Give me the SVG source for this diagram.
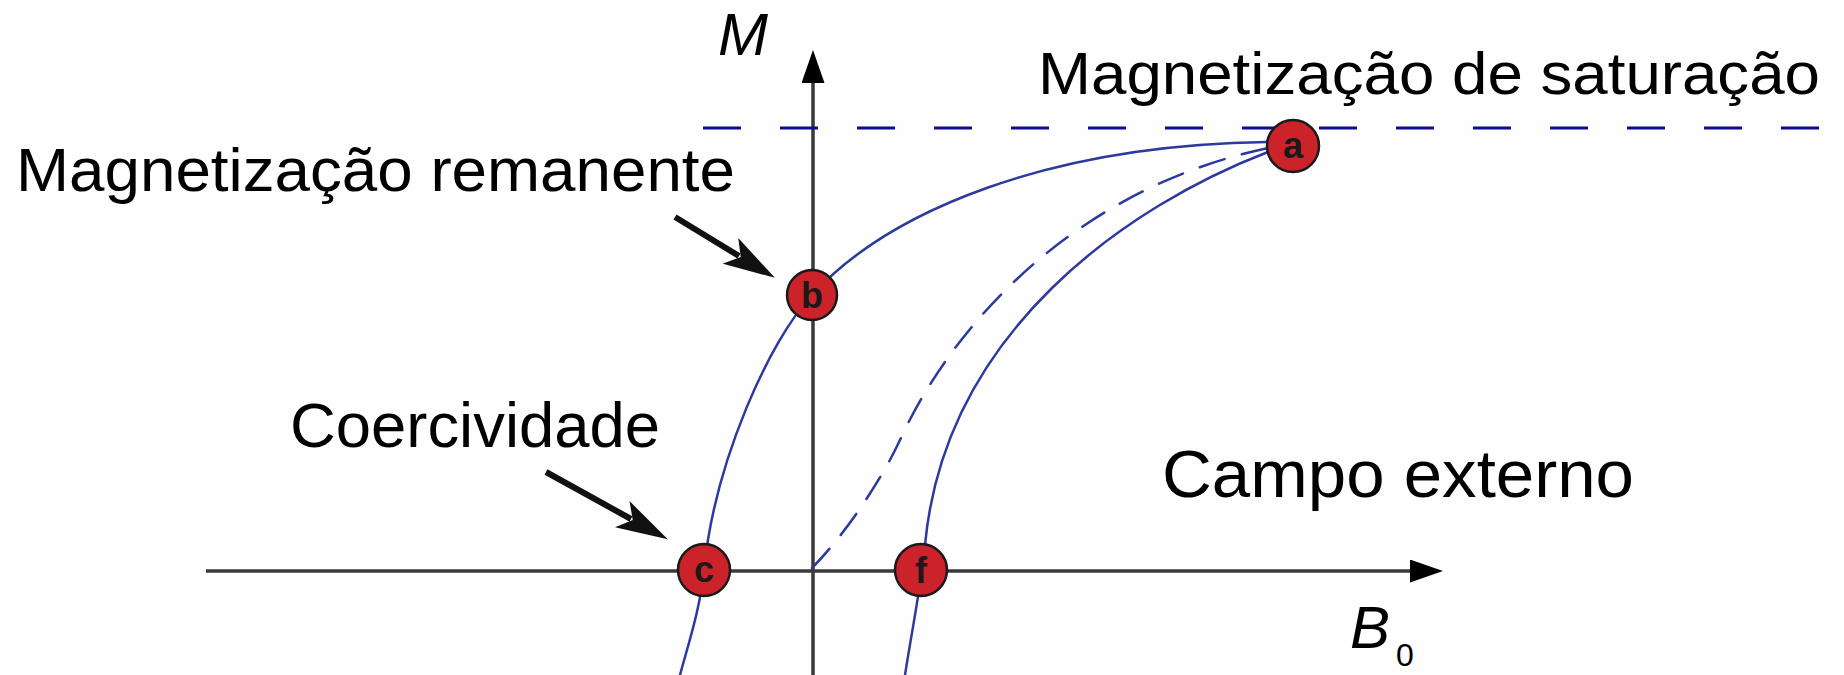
<svg xmlns="http://www.w3.org/2000/svg" width="1844" height="675" viewBox="0 0 1844 675">
<defs>
<style>
.lbl{font-family:"Liberation Sans",Arial,sans-serif;fill:#000}
.axis{stroke:#3a3a3a;stroke-width:3.5;fill:none}
.curve{stroke:#2b3a9c;stroke-width:2.5;fill:none;stroke-linecap:round}
.pt{fill:#cc2229;stroke:#1a1a1a;stroke-width:2.5}
.ptl{font-family:"Liberation Sans",Arial,sans-serif;font-weight:bold;font-size:36px;fill:#1a1a1a;text-anchor:middle}
.ptr{stroke:#111;stroke-width:6;fill:none}
</style>
<marker id="axisHead" viewBox="0 0 33 23" refX="0" refY="11.5" markerWidth="33" markerHeight="23" markerUnits="userSpaceOnUse" orient="auto">
<path d="M0,0 L33,11.5 L0,23 z" fill="#000"/>
</marker>
<marker id="ptrHead" viewBox="0 0 52 30" refX="10" refY="15" markerWidth="52" markerHeight="30" markerUnits="userSpaceOnUse" orient="auto">
<path d="M0,0 L52,15 L0,30 L12,15 z" fill="#111"/>
</marker>
</defs>
<rect x="0" y="0" width="1844" height="675" fill="#fefefe"/>

<g id="axes">
<line class="axis" x1="813" y1="675" x2="813" y2="83" marker-end="url(#axisHead)"/>
<line class="axis" x1="206" y1="571" x2="1410" y2="571" marker-end="url(#axisHead)"/>
<line x1="703" y1="128" x2="1844" y2="128" stroke="#0b0b8c" stroke-width="3" stroke-dasharray="38 39"/>
</g>

<g id="curves">
<path class="curve" d="M1267,142 C1050,145 890,210 812,295 C770,340 715,460 704,570 C700,610 688,645 680,675"/>
<path class="curve" d="M1268,152 C1130,205 945,330 925,545 C922,580 912,630 905,675"/>
<path class="curve" stroke-dasharray="26 18" d="M812,568 C842,538 880,483 900,440 C950,330 1070,190 1268,148"/>
</g>

<g id="connectors">
<line class="ptr" x1="675" y1="217" x2="739" y2="256" marker-end="url(#ptrHead)"/>
<line class="ptr" x1="546" y1="472" x2="631" y2="519" marker-end="url(#ptrHead)"/>
</g>

<g id="point-a"><circle class="pt" cx="1293" cy="146" r="26"/><text class="ptl" x="1293" y="158">a</text></g>
<g id="point-b"><circle class="pt" cx="812" cy="295" r="25"/><text class="ptl" x="812" y="308">b</text></g>
<g id="point-c"><circle class="pt" cx="704" cy="570" r="26"/><text class="ptl" x="704" y="582">c</text></g>
<g id="point-f"><circle class="pt" cx="921" cy="570" r="26"/><text class="ptl" x="921" y="583">f</text></g>

<g id="label-M"><text class="lbl" x="718" y="55" font-size="60" font-style="italic">M</text></g>
<g id="label-saturacao"><text class="lbl" x="1038" y="94" font-size="60" textLength="782" lengthAdjust="spacingAndGlyphs">Magnetização de saturação</text></g>
<g id="label-remanente"><text class="lbl" x="16" y="191" font-size="62" textLength="719" lengthAdjust="spacingAndGlyphs">Magnetização remanente</text></g>
<g id="label-coercividade"><text class="lbl" x="290" y="447" font-size="63" textLength="370" lengthAdjust="spacingAndGlyphs">Coercividade</text></g>
<g id="label-campo"><text class="lbl" x="1162" y="497" font-size="66" textLength="472" lengthAdjust="spacingAndGlyphs">Campo externo</text></g>
<g id="label-B0"><text class="lbl" x="1350" y="648" font-size="60" font-style="italic">B</text><text class="lbl" x="1396" y="666" font-size="32">0</text></g>
</svg>
